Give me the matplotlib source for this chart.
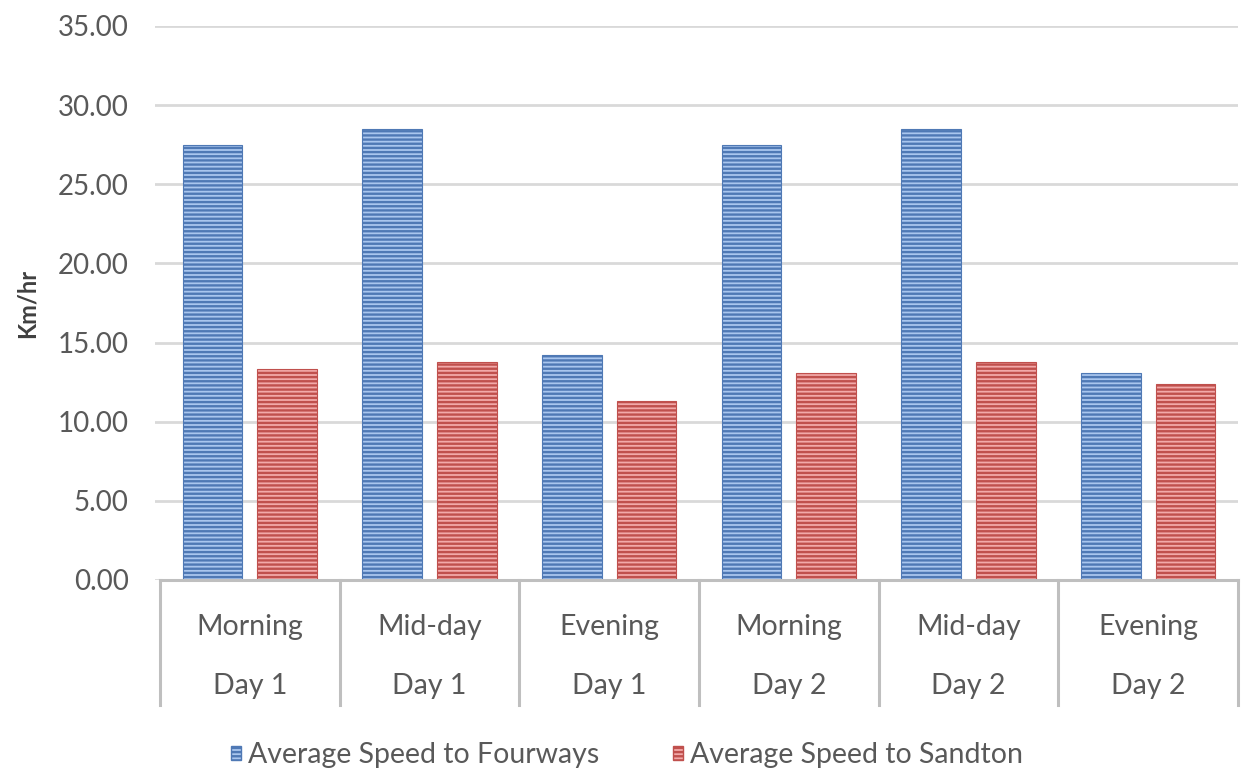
import matplotlib
matplotlib.use("Agg")
import matplotlib.pyplot as plt
import matplotlib.transforms as mtransforms
from matplotlib.patches import Patch
import numpy as np

periods = ["Morning", "Mid-day", "Evening", "Morning", "Mid-day", "Evening"]
days = ["Day 1", "Day 1", "Day 1", "Day 2", "Day 2", "Day 2"]
fourways = [27.5, 28.5, 14.2, 27.5, 28.5, 13.1]
sandton = [13.3, 13.8, 11.3, 13.1, 13.8, 12.4]
series_names = ["Average Speed to Fourways", "Average Speed to Sandton"]
yticks = [0, 5, 10, 15, 20, 25, 30, 35]

plt.rcParams["font.family"] = ["Lato", "DejaVu Sans"]
plt.rcParams["hatch.linewidth"] = 1.7

W, H = 1243, 772
fig = plt.figure(figsize=(W / 100, H / 100), dpi=100)
ax = fig.add_axes([155 / W, 1 - 580 / H, (1238 - 155) / W, (580 - 26) / H])

x = np.arange(len(periods))
bw = 0.333
off = 0.208

blue_face, blue_hatch = "#a9c6ee", "#4f79b5"
red_face, red_hatch = "#f2a9a9", "#c0504d"
text_color = "#595959"

ax.bar(x - off, fourways, bw, color=blue_face, edgecolor=blue_hatch,
       hatch="----", linewidth=0.8, zorder=3)
ax.bar(x + off, sandton, bw, color=red_face, edgecolor=red_hatch,
       hatch="----", linewidth=0.8, zorder=3)

ax.set_xlim(-0.5 - 5 / 180, 5.5)
ax.set_ylim(0, 35)
ax.set_yticks(yticks)
ax.set_yticklabels([f"{v:.2f}" for v in yticks], fontsize=20, color=text_color)
ax.tick_params(axis="y", length=0, pad=19)
ax.set_xticks([])
ax.grid(axis="y", color="#d9d9d9", linewidth=2, zorder=0)
for s in ["left", "right", "top", "bottom"]:
    ax.spines[s].set_visible(False)

# Category axis: baseline, separators and two label levels
trans = mtransforms.blended_transform_factory(ax.transData, ax.transAxes)
ax.plot([-0.5, 5.5], [0, 0], transform=trans, color="#bfbfbf", lw=2.2,
        clip_on=False, zorder=4)
sep_bottom = (580 - 705) / (580 - 26)
for b in np.arange(-0.5, 6.0, 1.0):
    ax.plot([b, b], [0, sep_bottom], transform=trans, color="#bfbfbf", lw=2.2,
            clip_on=False, zorder=4)
y_period = (580 - 627) / (580 - 26)
y_day = (580 - 686) / (580 - 26)
for xi, p, d in zip(x, periods, days):
    ax.text(xi, y_period, p, transform=trans, ha="center", va="center",
            fontsize=20.5, color=text_color)
    ax.text(xi, y_day, d, transform=trans, ha="center", va="center",
            fontsize=20.5, color=text_color)

ax.set_ylabel("Km/hr", fontsize=17, fontweight="bold", color="#404040", labelpad=14)

handles = [
    Patch(facecolor=blue_face, edgecolor=blue_hatch, hatch="----", label=series_names[0]),
    Patch(facecolor=red_face, edgecolor=red_hatch, hatch="----", label=series_names[1]),
]
fig.legend(handles=handles, loc="center", bbox_to_anchor=(627 / W, 1 - 755 / H),
           ncol=2, frameon=False, fontsize=20.5, handlelength=0.35, handleheight=0.35,
           handletextpad=0.25, columnspacing=2.6, labelcolor=text_color)

fig.savefig("out.png", dpi=100)
